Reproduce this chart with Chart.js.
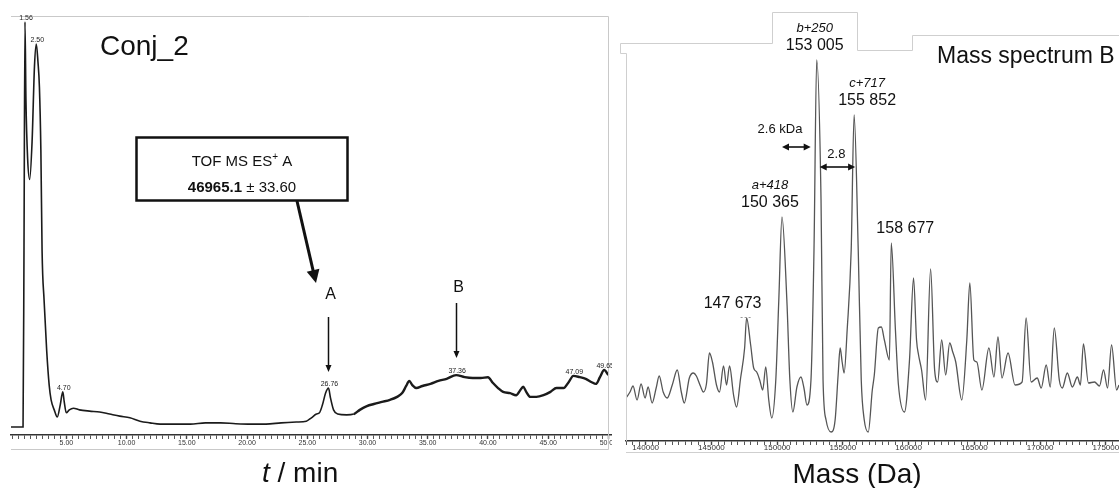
<!DOCTYPE html>
<html>
<head>
<meta charset="utf-8">
<script src="https://cdn.jsdelivr.net/npm/chart.js@4/dist/chart.umd.min.js"></script>
<style>
  html, body { margin: 0; padding: 0; background: #fff; }
  #wrap { position: relative; width: 1119px; height: 488px; overflow: hidden; background: #fff; }
  #lc { position: absolute; left: 0; top: 0; }
  #rc { position: absolute; left: 612px; top: 0; }
</style>
</head>
<body>
<div id="wrap">
  <canvas id="lc" width="612" height="488"></canvas>
  <canvas id="rc" width="507" height="488"></canvas>
</div>
<script>
const FONT = "'Liberation Sans', Arial, Helvetica, sans-serif";

// ---- Chromatogram (Conj_2): retention time in min, relative response in %
const tlcTime = [0.40, 1.40, 1.48, 1.56, 1.64, 1.78, 1.95, 2.15, 2.35, 2.50, 2.64, 2.76, 2.88, 2.98,
  3.15, 3.36, 3.57, 3.73, 3.99, 4.24, 4.49, 4.70, 4.82, 4.99, 5.24, 5.58, 6.08, 6.92, 7.76, 8.59,
  9.43, 10.27, 11.11, 11.94, 12.78, 14.04, 15.29, 16.55, 17.80, 19.06, 20.32, 21.57, 22.83, 24.09,
  24.92, 25.34, 25.76, 26.01, 26.26, 26.52, 26.76, 26.93, 27.18, 27.52, 28.27, 28.86, 29.36, 29.95,
  30.53, 31.20, 31.87, 32.46, 32.88, 33.21, 33.47, 33.72, 34.05, 34.56, 35.23, 35.89, 36.57, 37.36,
  38.07, 38.74, 39.41, 40.00, 40.42, 40.84, 41.26, 41.84, 42.34, 42.68, 42.93, 43.18, 43.52, 44.02,
  44.61, 45.19, 45.69, 46.28, 46.70, 47.09, 47.62, 48.12, 48.62, 48.96, 49.30, 49.65, 50.00];
const tlcIntensity = [1.9, 1.9, 45, 98.6, 80, 66, 61, 70, 88, 93.3, 89, 83, 68, 44,
  32, 20.3, 11.9, 8.4, 6.0, 4.3, 7.2, 10.3, 7.9, 5.3, 6.0, 6.4, 6.0, 5.7, 5.5, 5.0,
  4.5, 4.1, 3.3, 2.9, 2.6, 2.6, 2.6, 2.9, 2.9, 2.7, 2.6, 2.6, 2.9, 3.1,
  3.3, 4.1, 5.0, 5.3, 7.2, 10.0, 11.2, 8.8, 6.0, 5.0, 4.8, 5.0, 6.0, 6.9,
  7.4, 7.9, 8.4, 9.1, 10.0, 11.7, 12.9, 11.9, 11.2, 11.7, 12.2, 12.9, 13.4, 14.3,
  13.8, 13.6, 13.6, 13.8, 12.4, 11.2, 10.3, 10.0, 9.5, 10.7, 11.5, 10.3, 9.1, 9.1,
  9.5, 10.3, 11.2, 11.2, 12.6, 14.1, 13.8, 13.4, 12.6, 12.2, 13.8, 15.5, 14.3];
const tlcPeakTimes = [1.56, 2.50, 4.70, 26.76, 37.36, 47.09, 49.65];
const tlcMarkedPeaks = ['A', 'B'];
const tlcMarkedTimes = [26.76, 37.36];
const timeTickStep = 0.5;
const timeLabelStep = 5;

// ---- Deconvoluted mass spectrum of fraction B: mass in Da, relative intensity in %
const specMass = [138500, 138806, 139035, 139341, 139647, 139953, 140182, 140488, 140794, 141024,
  141329, 141635, 142018, 142400, 142706, 142935, 143318, 143623, 143853, 144159,
  144388, 144618, 144847, 145076, 145382, 145612, 145918, 146147, 146376, 146682,
  146912, 147218, 147523, 147673, 147982, 148212, 148441, 148671, 148900, 149129,
  149359, 149588, 149894, 150123, 150365, 150735, 150965, 151194, 151500, 151806,
  152035, 152265, 152570, 152800, 153005, 153335, 153488, 153718, 154100, 154406,
  154635, 154788, 154941, 155094, 155323, 155629, 155852, 156165, 156394, 156623,
  156929, 157235, 157388, 157694, 157923, 158153, 158535, 158677, 158994, 159224,
  159682, 160065, 160371, 160600, 160753, 160983, 161289, 161670, 161976, 162206,
  162512, 162817, 163123, 163353, 163582, 164041, 164423, 164653, 164959, 165188,
  165570, 166105, 166488, 166794, 167098, 167559, 168094, 168629, 168935, 169317,
  169776, 170082, 170464, 170770, 171076, 171459, 171688, 172070, 172453, 172835,
  173064, 173294, 173676, 174135, 174517, 174823, 175129, 175435, 175817, 176000];
const specIntensity = [10.75, 12.25, 13.75, 10.25, 14.25, 10.75, 13.5, 9.5, 13.25, 16.25,
  12.25, 10.75, 14, 17.75, 12.25, 9.5, 15.75, 17, 16.25, 13.75,
  12.25, 14.25, 22, 19.75, 14, 12.25, 18.75, 14, 18.75, 11.5,
  8.5, 15.75, 23.25, 30.75, 24, 18.25, 17.25, 15.25, 12.75, 18.5,
  10.25, 5.75, 15.25, 35.25, 56, 35.25, 15.25, 7.25, 13.5, 16,
  13.25, 9, 15.25, 47.75, 95.25, 60.25, 15.25, 5.25, 2.25, 5.25,
  16.5, 23.25, 19.75, 17, 27.75, 47.75, 81.5, 47.75, 15.25, 5.25,
  2.25, 12.75, 16.5, 28.25, 28.5, 25.25, 20.25, 49.5, 27.75, 14,
  7.25, 20.25, 40.75, 25.25, 21.5, 17.75, 10.25, 43, 17.75, 14.75,
  25.25, 16.5, 24.5, 22.25, 19.75, 10.25, 25.25, 39.5, 20.25, 19.75,
  12.75, 23.25, 16, 26, 15.75, 22, 14, 14.75, 30.75, 14.75,
  15.75, 13.25, 19, 13.5, 28.25, 15.25, 13.25, 17, 13.5, 16,
  14, 24.25, 14.5, 14.75, 13.75, 17.75, 13.25, 24, 12.75, 14];
const peakMasses = [147673, 150365, 153005, 155852, 158677];
const peakTags = ['', 'a+418', 'b+250', 'c+717', ''];
const massTickStep = 500;
const massLabelStep = 5000;

// ---- helpers
const isMult = (v, s) => Math.abs(v / s - Math.round(v / s)) < 1e-6;

function head(ctx, x, y, ang, len, half) {
  const c = Math.cos(ang), s = Math.sin(ang);
  ctx.beginPath();
  ctx.moveTo(x, y);
  ctx.lineTo(x - len * c + half * s, y - len * s - half * c);
  ctx.lineTo(x - len * c - half * s, y - len * s + half * c);
  ctx.closePath();
  ctx.fill();
}
function arrow(ctx, x1, y1, x2, y2, lw, len, half, both) {
  const ang = Math.atan2(y2 - y1, x2 - x1);
  const c = Math.cos(ang), s = Math.sin(ang);
  ctx.lineWidth = lw;
  ctx.beginPath();
  ctx.moveTo(both ? x1 + c * len * 0.8 : x1, both ? y1 + s * len * 0.8 : y1);
  ctx.lineTo(x2 - c * len * 0.8, y2 - s * len * 0.8);
  ctx.stroke();
  head(ctx, x2, y2, ang, len, half);
  if (both) head(ctx, x1, y1, ang + Math.PI, len, half);
}
function polyline(ctx, pts) {
  ctx.beginPath();
  pts.forEach((p, i) => (i ? ctx.lineTo(p[0], p[1]) : ctx.moveTo(p[0], p[1])));
  ctx.stroke();
}

// ---- decorations of the chromatogram panel
const chromDecor = {
  id: 'chromDecor',
  afterDraw(chart) {
    const { ctx, chartArea: ca } = chart;
    const xs = chart.scales.x, ys = chart.scales.y;
    ctx.save();

    // panel frame
    ctx.strokeStyle = '#c9c9c9';
    ctx.lineWidth = 1;
    polyline(ctx, [[ca.left, 16.5], [608.5, 16.5], [608.5, 449.5], [ca.left, 449.5]]);

    // retention time of the detected peaks
    ctx.fillStyle = '#222';
    ctx.font = `7px ${FONT}`;
    ctx.textAlign = 'center';
    ctx.textBaseline = 'bottom';
    tlcPeakTimes.forEach(t => {
      const i = tlcTime.indexOf(t);
      ctx.fillText(t.toFixed(2), xs.getPixelForValue(t) + 1, ys.getPixelForValue(tlcIntensity[i]) - 0.5);
    });

    // sample name
    ctx.fillStyle = '#111';
    ctx.textAlign = 'left';
    ctx.textBaseline = 'alphabetic';
    ctx.font = `28px ${FONT}`;
    ctx.fillText('Conj_2', 100, 55);

    // mass found for peak A
    ctx.strokeStyle = '#111';
    ctx.lineWidth = 2.5;
    ctx.strokeRect(136.5, 137.5, 211, 63);
    const cx = 242;
    const p1 = 'TOF MS ES', p2 = '+', p3 = ' A';
    ctx.font = `15px ${FONT}`; const w1 = ctx.measureText(p1).width, w3 = ctx.measureText(p3).width;
    ctx.font = `10px ${FONT}`; const w2 = ctx.measureText(p2).width;
    let x0 = cx - (w1 + w2 + w3) / 2;
    ctx.font = `15px ${FONT}`; ctx.fillText(p1, x0, 166);
    ctx.font = `10px ${FONT}`; ctx.fillText(p2, x0 + w1, 160);
    ctx.font = `15px ${FONT}`; ctx.fillText(p3, x0 + w1 + w2, 166);
    const q1 = '46965.1', q2 = ' \u00b1 33.60';
    ctx.font = `bold 15px ${FONT}`; const v1 = ctx.measureText(q1).width;
    ctx.font = `15px ${FONT}`; const v2 = ctx.measureText(q2).width;
    x0 = cx - (v1 + v2) / 2;
    ctx.font = `bold 15px ${FONT}`; ctx.fillText(q1, x0, 192);
    ctx.font = `15px ${FONT}`; ctx.fillText(q2, x0 + v1, 192);

    // pointer from the box to peak A
    ctx.fillStyle = '#111';
    arrow(ctx, 297, 201, 316, 283, 3, 13, 6.5, false);

    // fraction markers
    ctx.font = `16px ${FONT}`;
    ctx.textAlign = 'center';
    const tops = [[299, 317, 372], [292, 303, 358]];
    tlcMarkedPeaks.forEach((name, k) => {
      const px = Math.round(xs.getPixelForValue(tlcMarkedTimes[k])) + 0.5;
      const [ly, y1, y2] = tops[k];
      ctx.fillText(name, px + 2, ly);
      arrow(ctx, px, y1, px, y2, 1.5, 7, 3, false);
    });

    // axis title
    ctx.textAlign = 'left';
    ctx.font = `italic 28px ${FONT}`;
    ctx.fillText('t', 262, 482);
    const tw = ctx.measureText('t').width;
    ctx.font = `28px ${FONT}`;
    ctx.fillText(' / min', 262 + tw, 482);
    ctx.restore();
  }
};

// ---- decorations of the mass spectrum panel
const OX = 612;
const specDecor = {
  id: 'specDecor',
  afterDraw(chart) {
    const { ctx, chartArea: ca } = chart;
    const xs = chart.scales.x, ys = chart.scales.y;
    const P = x => x - OX;
    ctx.save();

    // panel frame, stepped around the labels of the main peaks
    ctx.strokeStyle = '#cfcfcf';
    ctx.lineWidth = 1;
    polyline(ctx, [[ca.left + 0.5, ca.bottom], [ca.left + 0.5, 53.5], [P(620.5), 53.5], [P(620.5), 43.5],
      [P(772.5), 43.5], [P(772.5), 12.5], [P(857.5), 12.5], [P(857.5), 50.5], [P(912.5), 50.5],
      [P(912.5), 35.5], [P(1119), 35.5]]);
    polyline(ctx, [[ca.left, 452.5], [ca.right, 452.5]]);

    // peak masses with their assignments
    const shift = [-14, -12, -2, 13, 14];
    ctx.fillStyle = '#111';
    ctx.textAlign = 'center';
    ctx.textBaseline = 'alphabetic';
    const pix = {};
    peakMasses.forEach((m, k) => {
      const i = specMass.indexOf(m);
      const px = xs.getPixelForValue(m), py = ys.getPixelForValue(specIntensity[i]);
      pix[m] = { px, py };
      const s = String(m);
      ctx.font = `16px ${FONT}`;
      ctx.fillText(s.slice(0, 3) + ' ' + s.slice(3), px + shift[k], py - 10);
      if (peakTags[k]) {
        ctx.font = `italic 13px ${FONT}`;
        ctx.fillText(peakTags[k], px + shift[k], py - 28);
      }
    });

    // marker above the 147 673 peak
    const a = pix[147673];
    ctx.strokeStyle = '#999';
    ctx.setLineDash([2, 2]);
    polyline(ctx, [[a.px - 6, Math.round(a.py) - 0.5], [a.px + 6, Math.round(a.py) - 0.5]]);
    ctx.setLineDash([]);

    // mass differences between the conjugate peaks
    ctx.strokeStyle = '#111';
    ctx.fillStyle = '#111';
    const pa = pix[150365].px, pb = pix[153005].px, pc = pix[155852].px;
    arrow(ctx, pa, 147, pb - 6, 147, 1.6, 7, 3.5, true);
    arrow(ctx, pb + 3, 167, pc + 1, 167, 1.6, 7, 3.5, true);
    ctx.font = `13px ${FONT}`;
    ctx.fillText('2.6 kDa', pa - 2, 133);
    ctx.fillText('2.8', (pb + pc) / 2 + 1, 158);

    // panel title and axis title
    ctx.textAlign = 'left';
    ctx.font = `23px ${FONT}`;
    ctx.fillText('Mass spectrum B', P(937), 63);
    ctx.textAlign = 'center';
    ctx.font = `28px ${FONT}`;
    ctx.fillText('Mass (Da)', P(857), 483);
    ctx.restore();
  }
};

function bottomAxis(min, max, step, labelStep, fmt, height, fontSize, pad) {
  return {
    type: 'linear', min, max,
    afterFit: s => { s.height = height; s.paddingLeft = 0; s.paddingRight = 0; },
    grid: { drawOnChartArea: false, drawTicks: true, tickLength: 4,
      color: '#444', tickWidth: c => (isMult(c.tick.value, labelStep) ? 1.4 : 0.9) },
    border: { display: true, color: '#333', width: 1.5 },
    ticks: { stepSize: step, autoSkip: false, includeBounds: false, maxRotation: 0, minRotation: 0,
      padding: pad, color: '#333', font: { family: FONT, size: fontSize },
      callback: v => (isMult(v, labelStep) ? fmt(v) : '') }
  };
}

const common = {
  responsive: false, animation: false, devicePixelRatio: 1,
  plugins: { legend: { display: false }, tooltip: { enabled: false } },
  elements: { point: { radius: 0 } }
};

new Chart(document.getElementById('lc'), {
  type: 'line',
  data: { datasets: [{
    data: tlcTime.map((t, i) => ({ x: t, y: tlcIntensity[i] })),
    borderColor: '#1b1b1b', borderWidth: 1.6, cubicInterpolationMode: 'monotone', fill: false,
    // the late, noisy part of the trace is recorded with a heavier stroke
    segment: { borderWidth: c => (c.p0.parsed.x > 28.5 ? 2.4 : 1.6) }
  }] },
  options: Object.assign({}, common, {
    layout: { padding: { left: 11, right: 0, top: 16, bottom: 0 } },
    scales: {
      x: bottomAxis(0.4, 50.3, timeTickStep, timeLabelStep, v => v.toFixed(2), 53, 7, 0),
      y: { display: false, min: 0, max: 100 }
    }
  }),
  plugins: [chromDecor]
});

new Chart(document.getElementById('rc'), {
  type: 'line',
  data: { datasets: [{
    data: specMass.map((m, i) => ({ x: m, y: specIntensity[i] })),
    borderColor: '#555555', borderWidth: 1.3, cubicInterpolationMode: 'monotone', fill: false
  }] },
  options: Object.assign({}, common, {
    layout: { padding: { left: 14, right: 0, top: 41, bottom: 0 } },
    scales: {
      // range is a whole number of 500 Da steps so the ticks land on round masses
      x: bottomAxis(138500, 176000, massTickStep, massLabelStep, v => String(v), 47, 8, -2),
      y: { display: false, min: 0, max: 100 }
    }
  }),
  plugins: [specDecor]
});
</script>
</body>
</html>
